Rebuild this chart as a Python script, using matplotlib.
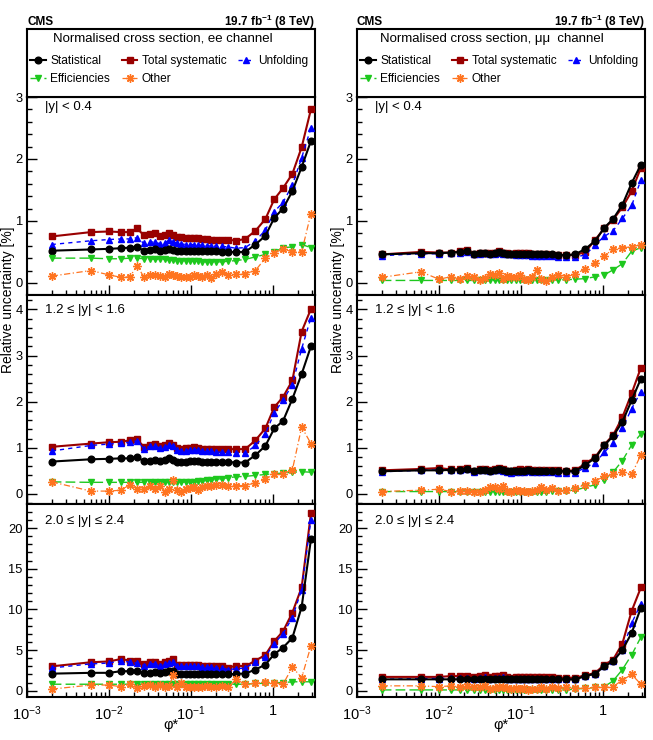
import numpy as np
import matplotlib
matplotlib.use('Agg')
import matplotlib.pyplot as plt
from matplotlib.ticker import FixedLocator, MultipleLocator, NullFormatter

# Helvetica-like font, ROOT style
plt.rcParams['font.family'] = ['Liberation Sans', 'DejaVu Sans']
plt.rcParams['mathtext.fontset'] = 'custom'
plt.rcParams['mathtext.rm'] = 'Liberation Sans'
plt.rcParams['mathtext.it'] = 'Liberation Sans:italic'
plt.rcParams['mathtext.bf'] = 'Liberation Sans:bold'

# phi* bin centres
phistar = [0.002, 0.006, 0.010, 0.014, 0.018, 0.022, 0.0265, 0.0315, 0.0365, 0.042,
           0.0485, 0.0545, 0.0605, 0.068, 0.0765, 0.086, 0.0965, 0.108, 0.121, 0.1365,
           0.155, 0.177, 0.204, 0.2385, 0.285, 0.3515, 0.4575, 0.6095, 0.8065, 1.0355,
           1.3245, 1.7215, 2.2345, 2.8995]

# ---- ee channel ----
ee_y0_stat = [0.52, 0.54, 0.55, 0.56, 0.57, 0.58, 0.52, 0.53, 0.54, 0.52, 0.53, 0.55, 0.53, 0.52, 0.52,
              0.52, 0.52, 0.52, 0.52, 0.51, 0.51, 0.51, 0.51, 0.50, 0.50, 0.50, 0.50, 0.62, 0.76, 1.05,
              1.20, 1.48, 1.87, 2.29]
ee_y0_syst = [0.75, 0.82, 0.83, 0.82, 0.82, 0.88, 0.77, 0.79, 0.80, 0.75, 0.77, 0.80, 0.77, 0.74, 0.74,
              0.73, 0.73, 0.73, 0.72, 0.71, 0.71, 0.70, 0.69, 0.69, 0.70, 0.68, 0.71, 0.84, 1.03, 1.35,
              1.53, 1.76, 2.19, 2.80]
ee_y0_unf = [0.62, 0.68, 0.70, 0.71, 0.71, 0.73, 0.64, 0.66, 0.66, 0.63, 0.65, 0.69, 0.66, 0.64, 0.63,
             0.62, 0.62, 0.62, 0.61, 0.61, 0.60, 0.60, 0.59, 0.59, 0.58, 0.56, 0.57, 0.68, 0.85, 1.15,
             1.30, 1.58, 2.02, 2.50]
ee_y0_eff = [0.40, 0.40, 0.39, 0.39, 0.40, 0.40, 0.39, 0.39, 0.38, 0.38, 0.38, 0.37, 0.37, 0.36, 0.36,
             0.36, 0.35, 0.35, 0.35, 0.34, 0.34, 0.34, 0.34, 0.34, 0.35, 0.36, 0.38, 0.42, 0.46, 0.50,
             0.57, 0.58, 0.62, 0.57]
ee_y0_oth = [0.11, 0.20, 0.13, 0.09, 0.10, 0.28, 0.10, 0.12, 0.12, 0.11, 0.10, 0.14, 0.12, 0.11, 0.10,
             0.10, 0.10, 0.12, 0.11, 0.10, 0.12, 0.08, 0.14, 0.18, 0.12, 0.14, 0.15, 0.20, 0.40, 0.48,
             0.55, 0.50, 0.50, 1.12]

ee_y3_stat = [0.70, 0.75, 0.76, 0.77, 0.77, 0.80, 0.71, 0.72, 0.74, 0.71, 0.74, 0.77, 0.73, 0.70, 0.70,
              0.70, 0.71, 0.71, 0.72, 0.70, 0.70, 0.70, 0.69, 0.69, 0.69, 0.68, 0.68, 0.84, 1.04, 1.42,
              1.58, 2.06, 2.60, 3.20]
ee_y3_syst = [1.02, 1.09, 1.12, 1.13, 1.16, 1.19, 1.02, 1.07, 1.08, 1.03, 1.06, 1.11, 1.07, 1.00, 0.97,
              0.99, 1.00, 1.01, 1.00, 0.98, 0.98, 0.98, 0.98, 0.97, 0.97, 0.97, 0.97, 1.16, 1.42, 1.88,
              2.10, 2.46, 3.52, 4.01]
ee_y3_unf = [0.93, 1.05, 1.08, 1.10, 1.12, 1.15, 0.98, 1.03, 1.04, 0.99, 1.02, 1.07, 1.03, 0.95, 0.92,
             0.94, 0.95, 0.96, 0.95, 0.92, 0.92, 0.92, 0.91, 0.90, 0.90, 0.89, 0.88, 1.05, 1.30, 1.76,
             2.03, 2.37, 3.15, 3.82]
ee_y3_eff = [0.26, 0.25, 0.25, 0.25, 0.25, 0.25, 0.25, 0.25, 0.25, 0.25, 0.25, 0.25, 0.25, 0.25, 0.25,
             0.26, 0.26, 0.26, 0.27, 0.28, 0.29, 0.30, 0.32, 0.33, 0.35, 0.37, 0.38, 0.40, 0.42, 0.44,
             0.45, 0.47, 0.48, 0.47]
ee_y3_oth = [0.26, 0.06, 0.06, 0.08, 0.20, 0.10, 0.10, 0.18, 0.10, 0.18, 0.05, 0.10, 0.30, 0.08, 0.05,
             0.10, 0.12, 0.15, 0.08, 0.15, 0.17, 0.18, 0.19, 0.20, 0.18, 0.18, 0.18, 0.24, 0.32, 0.42,
             0.44, 0.52, 1.45, 1.09]

ee_y5_stat = [2.1, 2.2, 2.2, 2.4, 2.4, 2.4, 2.2, 2.2, 2.3, 2.2, 2.3, 2.4, 2.4, 2.1, 2.1, 2.1, 2.1, 2.1,
              2.1, 2.1, 2.1, 2.1, 2.1, 2.0, 2.0, 2.1, 2.1, 2.6, 3.2, 4.5, 5.3, 6.5, 10.3, 18.6]
ee_y5_syst = [3.0, 3.5, 3.6, 3.9, 3.7, 3.6, 3.3, 3.5, 3.5, 3.3, 3.5, 3.7, 3.9, 3.2, 3.2, 3.2, 3.2, 3.2,
              3.2, 3.1, 3.1, 3.1, 3.0, 3.0, 2.8, 3.1, 3.0, 3.7, 4.4, 6.1, 7.3, 9.6, 12.7, 21.8]
ee_y5_unf = [2.8, 3.3, 3.4, 3.7, 3.5, 3.4, 3.1, 3.3, 3.3, 3.1, 3.3, 3.4, 3.5, 3.0, 3.0, 3.0, 3.0, 3.0,
             3.0, 2.9, 2.9, 2.9, 2.8, 2.8, 2.6, 2.7, 2.8, 3.5, 4.2, 5.8, 7.0, 9.0, 12.4, 21.0]
ee_y5_eff = [0.8, 0.8, 0.8, 0.8, 0.8, 0.8, 0.8, 0.8, 0.8, 0.8, 0.8, 0.8, 0.8, 0.8, 0.8, 0.8, 0.8, 0.8,
             0.8, 0.8, 0.8, 0.8, 0.8, 0.8, 0.8, 0.8, 0.8, 0.9, 0.9, 1.0, 1.0, 1.1, 1.1, 1.1]
ee_y5_oth = [0.2, 0.7, 0.7, 0.5, 0.8, 0.3, 0.6, 0.7, 0.4, 0.7, 0.5, 0.6, 1.9, 0.5, 0.9, 0.5, 0.4, 0.4,
             0.5, 0.5, 0.6, 0.5, 0.5, 0.6, 0.4, 1.4, 0.8, 0.9, 1.1, 1.0, 0.8, 2.9, 1.6, 5.5]

# ---- mumu channel ----
mm_y0_stat = [0.46, 0.48, 0.48, 0.49, 0.50, 0.51, 0.47, 0.48, 0.49, 0.47, 0.48, 0.50, 0.48, 0.47, 0.47,
              0.47, 0.47, 0.47, 0.47, 0.47, 0.47, 0.46, 0.46, 0.46, 0.45, 0.45, 0.46, 0.55, 0.68, 0.89,
              1.03, 1.26, 1.61, 1.91]
mm_y0_syst = [0.46, 0.50, 0.49, 0.49, 0.51, 0.53, 0.47, 0.49, 0.49, 0.48, 0.49, 0.51, 0.49, 0.48, 0.47,
              0.48, 0.48, 0.48, 0.48, 0.47, 0.47, 0.47, 0.46, 0.45, 0.45, 0.45, 0.45, 0.50, 0.70, 0.88,
              1.02, 1.22, 1.48, 1.86]
mm_y0_unf = [0.44, 0.47, 0.47, 0.48, 0.49, 0.50, 0.46, 0.47, 0.48, 0.46, 0.47, 0.49, 0.47, 0.46, 0.46,
             0.45, 0.45, 0.45, 0.45, 0.44, 0.44, 0.44, 0.43, 0.43, 0.42, 0.42, 0.42, 0.45, 0.62, 0.75,
             0.84, 1.04, 1.25, 1.66]
mm_y0_eff = [0.04, 0.04, 0.04, 0.04, 0.04, 0.04, 0.04, 0.04, 0.04, 0.04, 0.04, 0.04, 0.04, 0.04, 0.04,
             0.04, 0.04, 0.04, 0.04, 0.04, 0.04, 0.04, 0.05, 0.05, 0.05, 0.05, 0.06, 0.07, 0.10, 0.13,
             0.21, 0.31, 0.51, 0.57]
mm_y0_oth = [0.09, 0.18, 0.06, 0.10, 0.06, 0.11, 0.10, 0.05, 0.08, 0.14, 0.12, 0.16, 0.06, 0.11, 0.10,
             0.09, 0.12, 0.06, 0.04, 0.10, 0.21, 0.06, 0.03, 0.10, 0.12, 0.10, 0.14, 0.23, 0.32, 0.43,
             0.55, 0.57, 0.58, 0.62]

mm_y3_stat = [0.49, 0.51, 0.51, 0.52, 0.52, 0.54, 0.49, 0.51, 0.52, 0.50, 0.52, 0.53, 0.52, 0.50, 0.49,
              0.50, 0.50, 0.50, 0.51, 0.50, 0.50, 0.50, 0.50, 0.50, 0.49, 0.49, 0.49, 0.63, 0.78, 1.05,
              1.25, 1.56, 2.03, 2.50]
mm_y3_syst = [0.51, 0.54, 0.56, 0.53, 0.54, 0.57, 0.50, 0.54, 0.55, 0.52, 0.54, 0.56, 0.54, 0.50, 0.50,
              0.52, 0.53, 0.52, 0.53, 0.52, 0.52, 0.52, 0.52, 0.52, 0.51, 0.50, 0.51, 0.66, 0.80, 1.07,
              1.27, 1.66, 2.18, 2.74]
mm_y3_unf = [0.48, 0.51, 0.52, 0.51, 0.52, 0.55, 0.48, 0.51, 0.52, 0.49, 0.51, 0.52, 0.50, 0.47, 0.46,
             0.48, 0.48, 0.48, 0.49, 0.48, 0.48, 0.48, 0.47, 0.47, 0.46, 0.45, 0.46, 0.57, 0.68, 0.90,
             1.10, 1.42, 1.85, 2.22]
mm_y3_eff = [0.05, 0.05, 0.05, 0.05, 0.05, 0.05, 0.05, 0.05, 0.05, 0.05, 0.05, 0.05, 0.05, 0.05, 0.05,
             0.05, 0.05, 0.05, 0.05, 0.05, 0.05, 0.05, 0.05, 0.06, 0.06, 0.07, 0.08, 0.14, 0.20, 0.30,
             0.47, 0.72, 1.06, 1.30]
mm_y3_oth = [0.05, 0.08, 0.10, 0.05, 0.07, 0.06, 0.05, 0.05, 0.08, 0.14, 0.15, 0.10, 0.18, 0.06, 0.04,
             0.08, 0.06, 0.07, 0.05, 0.06, 0.08, 0.14, 0.08, 0.12, 0.06, 0.08, 0.12, 0.20, 0.28, 0.38,
             0.42, 0.48, 0.42, 0.85]

mm_y5_stat = [1.4, 1.4, 1.4, 1.4, 1.4, 1.4, 1.4, 1.4, 1.5, 1.4, 1.5, 1.5, 1.5, 1.5, 1.4, 1.4, 1.4, 1.4,
              1.4, 1.4, 1.4, 1.4, 1.4, 1.4, 1.4, 1.4, 1.4, 1.8, 2.1, 3.0, 3.6, 5.0, 7.1, 10.2]
mm_y5_syst = [1.7, 1.7, 1.7, 1.8, 1.8, 1.8, 1.7, 1.8, 1.9, 1.7, 1.8, 1.8, 1.9, 1.7, 1.6, 1.7, 1.7, 1.7,
              1.7, 1.7, 1.7, 1.7, 1.7, 1.7, 1.6, 1.6, 1.6, 1.9, 2.2, 3.2, 3.8, 5.8, 9.8, 12.7]
mm_y5_unf = [1.4, 1.5, 1.5, 1.6, 1.6, 1.6, 1.5, 1.6, 1.7, 1.5, 1.6, 1.6, 1.7, 1.5, 1.4, 1.5, 1.5, 1.5,
             1.5, 1.5, 1.5, 1.5, 1.5, 1.5, 1.4, 1.4, 1.4, 1.8, 2.1, 3.1, 3.7, 5.0, 8.3, 10.7]
mm_y5_eff = [0.1, 0.1, 0.1, 0.1, 0.1, 0.1, 0.1, 0.1, 0.1, 0.1, 0.1, 0.1, 0.1, 0.1, 0.1, 0.1, 0.1, 0.1,
             0.1, 0.1, 0.1, 0.1, 0.1, 0.1, 0.1, 0.1, 0.2, 0.3, 0.4, 0.5, 1.2, 2.6, 4.4, 6.6]
mm_y5_oth = [0.6, 0.6, 0.5, 0.6, 0.5, 0.6, 0.5, 0.5, 0.6, 0.2, 0.3, 0.4, 0.5, 0.3, 0.2, 0.3, 0.2, 0.3,
             0.1, 0.2, 0.2, 0.5, 0.2, 0.4, 0.3, 0.5, 0.3, 0.3, 0.4, 0.4, 0.5, 1.3, 2.0, 0.8]

rapidity_labels = ['|y| < 0.4', '1.2 \u2264 |y| < 1.6', '2.0 \u2264 |y| \u2264 2.4']
channel_titles = ['Normalised cross section, ee channel',
                  'Normalised cross section, \u03bc\u03bc  channel']

# line / marker styles, drawing order = z order
styles = {
    'Total systematic': dict(color='#990000', marker='s', ls='-', lw=1.5, ms=4.6, zorder=3),
    'Unfolding': dict(color='#0000ff', marker='^', ls=(0, (3, 3)), lw=1.0, ms=4.8, zorder=4),
    'Statistical': dict(color='black', marker='o', ls='-', lw=1.5, ms=4.8, zorder=5),
    'Efficiencies': dict(color='#1ec81e', marker='v', ls=(0, (7, 3)), lw=1.0, ms=4.8, zorder=6),
    'Other': dict(color='#ff7420', marker=(8, 2, 0), ls=(0, (5, 2, 1, 2)), lw=0.9, ms=6, mew=1.0, zorder=7),
}

columns = [
    [  # ee
        {'Statistical': ee_y0_stat, 'Total systematic': ee_y0_syst, 'Unfolding': ee_y0_unf,
         'Efficiencies': ee_y0_eff, 'Other': ee_y0_oth},
        {'Statistical': ee_y3_stat, 'Total systematic': ee_y3_syst, 'Unfolding': ee_y3_unf,
         'Efficiencies': ee_y3_eff, 'Other': ee_y3_oth},
        {'Statistical': ee_y5_stat, 'Total systematic': ee_y5_syst, 'Unfolding': ee_y5_unf,
         'Efficiencies': ee_y5_eff, 'Other': ee_y5_oth},
    ],
    [  # mumu
        {'Statistical': mm_y0_stat, 'Total systematic': mm_y0_syst, 'Unfolding': mm_y0_unf,
         'Efficiencies': mm_y0_eff, 'Other': mm_y0_oth},
        {'Statistical': mm_y3_stat, 'Total systematic': mm_y3_syst, 'Unfolding': mm_y3_unf,
         'Efficiencies': mm_y3_eff, 'Other': mm_y3_oth},
        {'Statistical': mm_y5_stat, 'Total systematic': mm_y5_syst, 'Unfolding': mm_y5_unf,
         'Efficiencies': mm_y5_eff, 'Other': mm_y5_oth},
    ],
]

# axis ranges per row: (ylim, major step, minor step)
row_axes = [((-0.19, 3.0), 1, 0.2), ((-0.22, 4.32), 1, 0.2), ((-0.77, 22.95), 5, 1)]

W, H = 653, 740
fig = plt.figure(figsize=(W / 100, H / 100), dpi=100)

col_left = [27, 357]
col_width = 288
row_pix = [(97, 294.7), (294.7, 504), (504, 697)]

legend_order = ['Statistical', 'Efficiencies', 'Total systematic', 'Other', 'Unfolding']

for c in range(2):
    x0 = col_left[c] / W
    w = col_width / W
    handles = {}
    for r in range(3):
        top, bot = row_pix[r]
        ax = fig.add_axes([x0, 1 - bot / H, w, (bot - top) / H])
        for name, st in styles.items():
            ln, = ax.plot(phistar, columns[c][r][name], label=name, **st)
            handles[name] = ln
        ax.set_xscale('log')
        ax.set_xlim(1e-3, 3.25)
        ylim, major, minor = row_axes[r]
        ax.set_ylim(*ylim)
        ax.yaxis.set_major_locator(MultipleLocator(major))
        ax.yaxis.set_minor_locator(MultipleLocator(minor))
        ax.xaxis.set_major_locator(FixedLocator([1e-3, 1e-2, 1e-1, 1]))
        ax.xaxis.set_minor_locator(FixedLocator(
            [m * d for d in [1e-3, 1e-2, 1e-1, 1] for m in range(2, 10)]))
        ax.xaxis.set_minor_formatter(NullFormatter())
        ax.tick_params(axis='both', which='major', direction='in', length=7, width=1,
                       labelsize=9.3, pad=3)
        ax.tick_params(axis='both', which='minor', direction='in', length=3.5, width=1)
        ax.tick_params(axis='x', which='major', labelsize=10.5, pad=5)
        if r == 2:
            ax.set_xticklabels([r'$10^{-3}$', r'$10^{-2}$', r'$10^{-1}$', '1'])
            ax.set_xlabel('\u03c6*', fontsize=10.5, labelpad=-3)
        else:
            ax.set_xticklabels([])
        for sp in ax.spines.values():
            sp.set_linewidth(1.5)
        ax.text(0.0625, 0.95 if r == 0 else (0.927 if r == 1 else 0.913), rapidity_labels[r],
                transform=ax.transAxes, fontsize=9.5, ha='left', va='center')

    # legend box on top of the upper panel
    lax = fig.add_axes([x0, 1 - 97 / H, w, (97 - 29) / H])
    lax.set_xticks([])
    lax.set_yticks([])
    for sp in lax.spines.values():
        sp.set_linewidth(1.5)
    lax.text(0.47, 0.86, channel_titles[c], transform=lax.transAxes, fontsize=9.5,
             ha='center', va='center')
    lax.legend([handles[n] for n in legend_order], legend_order, ncol=3, loc='upper left',
               bbox_to_anchor=(0.012, 0.62), frameon=False, fontsize=8.6, numpoints=1,
               handlelength=1.3, handletextpad=0.35, columnspacing=1.0, labelspacing=0.55,
               borderpad=0, borderaxespad=0)

    # header
    fig.text(x0, 1 - 22 / H, 'CMS', fontsize=8.5, fontweight='bold', ha='left', va='center')
    fig.text(x0 + w, 1 - 22 / H, r'19.7 fb$^{\mathbf{-1}}$ (8 TeV)', fontsize=8.5,
             fontweight='bold', ha='right', va='center')
    # y axis title
    fig.text((col_left[c] - 19) / W, 1 - 300 / H, 'Relative uncertainty [%]', rotation=90,
             fontsize=10, ha='center', va='center')

fig.savefig('out.png', dpi=100)
